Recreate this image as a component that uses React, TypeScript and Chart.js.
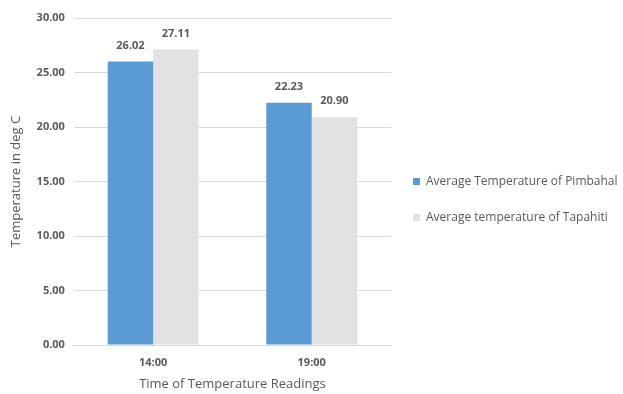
import React, { useEffect, useRef } from "react";
import { Chart, registerables } from "chart.js";

Chart.register(...registerables);

const categories = ["14:00", "19:00"];
const pimbahal = [26.02, 22.23];
const tapahiti = [27.11, 20.9];
const seriesNames = ["Average Temperature of Pimbahal", "Average temperature of Tapahiti"];
const yTicks = [0, 5, 10, 15, 20, 25, 30];

const FONT = "'Open Sans', 'Noto Sans', sans-serif";
const TXT = "#595959";

const valueLabels = {
  id: "valueLabels",
  afterDatasetsDraw(chart: any) {
    const ctx = chart.ctx;
    ctx.save();
    ctx.font = `bold 11px ${FONT}`;
    ctx.fillStyle = TXT;
    ctx.textAlign = "center";
    ctx.textBaseline = "middle";
    chart.data.datasets.forEach((ds: any, i: number) => {
      const meta = chart.getDatasetMeta(i);
      meta.data.forEach((bar: any, j: number) => {
        ctx.fillText(Number(ds.data[j]).toFixed(2), bar.x, bar.y - 16);
      });
    });
    ctx.restore();
  },
};

const sideLegend = {
  id: "sideLegend",
  afterDraw(chart: any) {
    const ctx = chart.ctx;
    const area = chart.chartArea;
    const x = area.right + 22;
    const mid = (area.top + area.bottom) / 2;
    ctx.save();
    ctx.font = `12px ${FONT}`;
    ctx.textBaseline = "middle";
    ctx.textAlign = "left";
    chart.data.datasets.forEach((ds: any, i: number) => {
      const y = mid + i * 36;
      ctx.fillStyle = ds.backgroundColor;
      ctx.fillRect(x, y - 3.5, 7, 7);
      ctx.fillStyle = TXT;
      ctx.fillText(ds.label, x + 13, y);
    });
    ctx.restore();
  },
};

export default function App() {
  const ref = useRef<HTMLCanvasElement>(null);
  useEffect(() => {
    if (!ref.current) return;
    const chart = new Chart(ref.current, {
      type: "bar",
      data: {
        labels: categories,
        datasets: [
          { label: seriesNames[0], data: pimbahal, backgroundColor: "#5b9bd5" },
          { label: seriesNames[1], data: tapahiti, backgroundColor: "#e2e2e2" },
        ],
      },
      options: {
        animation: false,
        responsive: false,
        maintainAspectRatio: false,
        layout: { padding: { top: 10, right: 232, left: 0, bottom: 0 } },
        datasets: { bar: { categoryPercentage: 0.573, barPercentage: 1 } },
        plugins: {
          legend: { display: false },
          tooltip: { enabled: false },
        },
        scales: {
          x: {
            afterFit(scale: any) {
              scale.height = 49;
              scale.paddingTop = 0;
              scale.paddingBottom = 0;
            },
            grid: { display: false, drawTicks: false },
            border: { display: true, color: "#d9d9d9" },
            ticks: { color: TXT, font: { family: FONT, size: 11, weight: "bold" }, padding: 11 },
            title: {
              display: true,
              text: "Time of Temperature Readings",
              color: TXT,
              font: { family: FONT, size: 13 },
              padding: { top: 6, bottom: 2 },
            },
          },
          y: {
            min: 0,
            max: 30,
            afterFit(scale: any) {
              scale.paddingTop = 0;
              scale.paddingBottom = 0;
            },
            afterBuildTicks(axis: any) {
              axis.ticks = yTicks.map((v) => ({ value: v }));
            },
            grid: { color: "#d9d9d9", drawTicks: false },
            border: { display: false },
            ticks: {
              color: TXT,
              font: { family: FONT, size: 11, weight: "bold" },
              padding: 9,
              callback: (v: any) => Number(v).toFixed(2),
            },
            title: {
              display: true,
              text: "Temperature in deg C",
              color: TXT,
              font: { family: FONT, size: 13 },
              padding: { top: 0, bottom: 4 },
            },
          },
        },
      },
      plugins: [valueLabels, sideLegend],
    });
    return () => chart.destroy();
  }, []);
  return (
    <div style={{ position: "absolute", left: 8, top: 8, width: 615, height: 386 }}>
      <canvas ref={ref} width={615} height={386} style={{ width: 615, height: 386, display: "block" }} />
    </div>
  );
}
